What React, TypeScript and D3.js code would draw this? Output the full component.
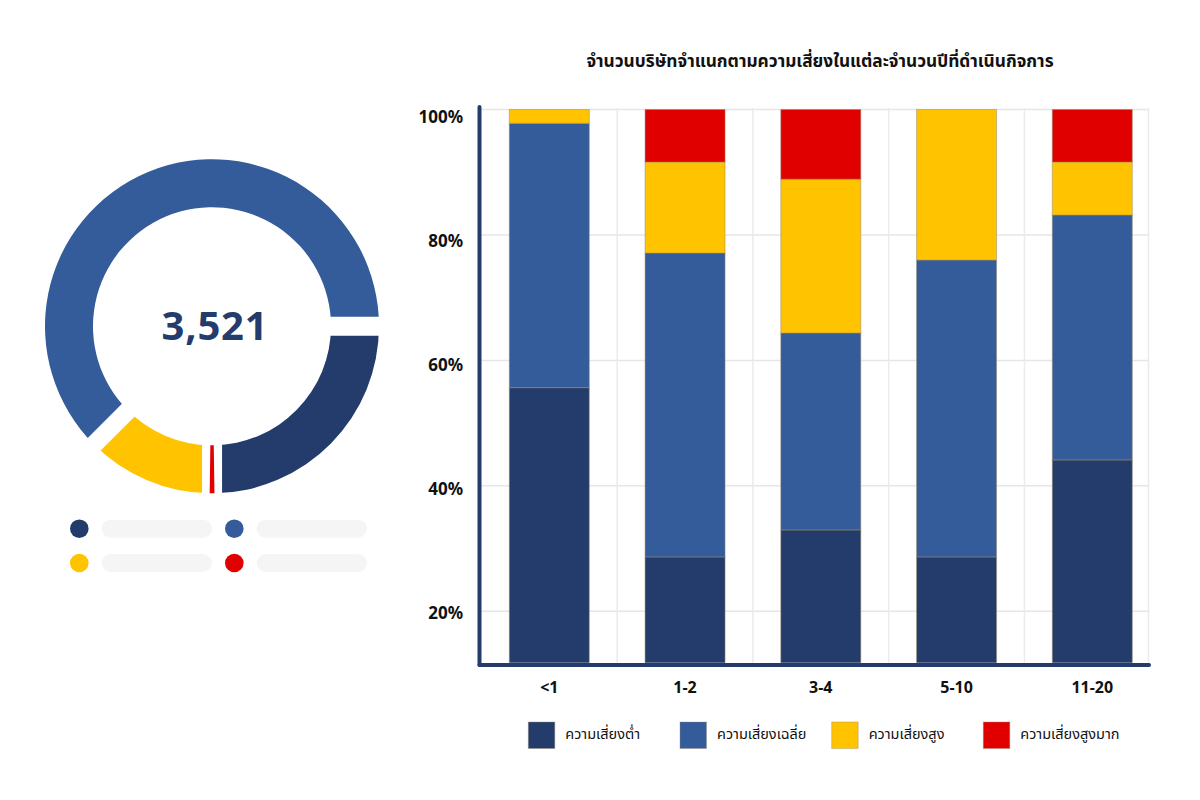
import React from "react";
import * as d3 from "d3";

const categories = ["<1", "1-2", "3-4", "5-10", "11-20"];
const lowRisk = [55.65, 28.66, 32.97, 28.66, 44.13];
const mediumRisk = [42.15, 48.46, 31.4, 47.34, 39.05];
const highRisk = [2.2, 14.51, 24.53, 24.0, 8.45];
const veryHighRisk = [0, 8.37, 11.1, 0, 8.37];
const seriesNames = ["ความเสี่ยงต่ำ", "ความเสี่ยงเฉลี่ย", "ความเสี่ยงสูง", "ความเสี่ยงสูงมาก"];
const yTicks = [20, 40, 60, 80, 100];
const yTickLabels = ["20%", "40%", "60%", "80%", "100%"];
const title = "จำนวนบริษัทจำแนกตามความเสี่ยงในแต่ละจำนวนปีที่ดำเนินกิจการ";

const donutKeys = ["low", "veryHigh", "high", "medium"];
const donutValues = [872, 16, 432, 2201];
const totalLabel = "3,521";

const COLORS: Record<string, string> = {
  low: "#243C6B",
  medium: "#345C9A",
  high: "#FFC300",
  veryHigh: "#E00000",
};
const keys = ["low", "medium", "high", "veryHigh"];

const FONT = "'Noto Sans', 'Noto Sans Thai', 'Noto Sans CJK SC', sans-serif";

export default function App() {
  const left = 480, right = 1148.5, top = 109.5, bottom = 662.7;
  const x = d3.scaleBand<string>().domain(categories).range([509.3, 1132.3]).paddingInner(0.4107).paddingOuter(0);
  const y = d3.scaleLinear().domain([11.8, 100]).range([bottom, top]);
  const yLabel = d3.scaleLinear().domain([100, 20]).range([118.5, 614.5]);

  const rows = categories.map((c, i) => ({
    cat: c,
    low: lowRisk[i],
    medium: mediumRisk[i],
    high: highRisk[i],
    veryHigh: veryHighRisk[i],
  }));
  const stacked = d3.stack<any>().keys(keys)(rows);

  const step = x.step();
  const bw = x.bandwidth();
  const vGrid = categories.slice(0, -1).map((c) => (x(c) as number) + bw + (step - bw) / 2);
  vGrid.push(right);

  // donut
  const cx = 212, cy = 326.3;
  const rIn = 119, rOut = 167;
  const pie = d3.pie<number>().sort(null).value((d) => d).startAngle(Math.PI / 2).endAngle(Math.PI / 2 + 2 * Math.PI);
  const arcsData = pie(donutValues);
  const arcGen = d3.arc<any>().innerRadius(rIn).outerRadius(rOut);
  const redIdx = donutKeys.indexOf("veryHigh");
  const redArc = arcsData[redIdx];
  const redMid = (redArc.startAngle + redArc.endAngle) / 2;
  const gaps = [
    { a: arcsData[0].startAngle, w: 19 },
    { a: arcsData[3].startAngle, w: 18 },
    { a: redMid, w: 20 },
  ];
  const pt = (a: number, r: number) => [r * Math.sin(a), -r * Math.cos(a)];

  const legendX = [528.3, 680, 831.7, 983.3];

  const placeholderDots = [
    { cx: 79.3, cy: 528.7, k: "low" },
    { cx: 234.3, cy: 528.7, k: "medium" },
    { cx: 79.3, cy: 563, k: "high" },
    { cx: 234.3, cy: 563, k: "veryHigh" },
  ];

  return (
    <svg
      width={1200}
      height={800}
      style={{ position: "absolute", left: 0, top: 0, background: "#fff" }}
      fontFamily={FONT}
    >
      <defs>
        <clipPath id="plotClip">
          <rect x={left} y={top - 2} width={right - left} height={bottom - top + 2} />
        </clipPath>
      </defs>

      {/* Donut */}
      <g transform={`translate(${cx},${cy})`}>
        {arcsData.map((a, i) =>
          i === redIdx ? null : <path key={i} d={arcGen(a) as string} fill={COLORS[donutKeys[i]]} />
        )}
        {gaps.map((g, i) => {
          const [x1, y1] = pt(g.a, rIn - 8);
          const [x2, y2] = pt(g.a, rOut + 8);
          return <line key={i} x1={x1} y1={y1} x2={x2} y2={y2} stroke="#fff" strokeWidth={g.w} />;
        })}
        <path d={arcGen(redArc) as string} fill={COLORS.veryHigh} />
        <text
          x={3}
          y={-2}
          textAnchor="middle"
          dominantBaseline="central"
          fontSize={40}
          fontWeight={700}
          letterSpacing={0.8}
          fill="#243C6B"
        >
          {totalLabel}
        </text>
      </g>

      {/* Donut placeholder legend */}
      {placeholderDots.map((p, i) => (
        <g key={i}>
          <circle cx={p.cx} cy={p.cy} r={9.3} fill={COLORS[p.k]} />
          <rect x={p.cx + 22.4} y={p.cy - 9} width={110.3} height={18} rx={9} fill="#F5F5F5" />
        </g>
      ))}

      {/* Title */}
      <text x={820} y={62} textAnchor="middle" dominantBaseline="middle" fontSize={17.3} fontWeight={700} fill="#111">
        {title}
      </text>

      {/* grid */}
      {yTicks.map((t) => (
        <line key={t} x1={left} x2={right} y1={y(t)} y2={y(t)} stroke="#E6E6E6" strokeWidth={1.5} />
      ))}
      {vGrid.map((gx, i) => (
        <line key={i} x1={gx} x2={gx} y1={y(100) - 1.5} y2={bottom} stroke="#EBEBEB" strokeWidth={1.5} />
      ))}

      {/* bars */}
      <g clipPath="url(#plotClip)">
        {stacked.map((s) => (
          <g key={s.key} fill={COLORS[s.key]}>
            {s.map((d, i) =>
              d[1] - d[0] > 0 ? (
                <rect
                  key={i}
                  x={x(categories[i])}
                  y={y(d[1])}
                  width={bw}
                  height={y(d[0]) - y(d[1])}
                  stroke="#9a8a70"
                  strokeOpacity={0.5}
                  strokeWidth={1}
                />
              ) : null
            )}
          </g>
        ))}
      </g>

      {/* axes */}
      <line x1={479.5} x2={479.5} y1={107} y2={665} stroke="#243C6B" strokeWidth={4} strokeLinecap="round" />
      <line x1={479.5} x2={1149} y1={665} y2={665} stroke="#243C6B" strokeWidth={4} strokeLinecap="round" />

      {/* y labels */}
      {yTicks.map((t, i) => (
        <text
          key={t}
          x={463}
          y={yLabel(t)}
          textAnchor="end"
          dominantBaseline="middle"
          fontSize={17}
          fontWeight={700}
          fill="#111"
        >
          {yTickLabels[i]}
        </text>
      ))}

      {/* x labels */}
      {categories.map((c) => (
        <text
          key={c}
          x={(x(c) as number) + bw / 2}
          y={689}
          textAnchor="middle"
          dominantBaseline="middle"
          fontSize={16}
          fontWeight={700}
          fill="#111"
        >
          {c}
        </text>
      ))}

      {/* legend */}
      {keys.map((k, i) => (
        <g key={k}>
          <rect x={legendX[i]} y={722} width={26.5} height={26.5} fill={COLORS[k]} stroke="#9a8a70" strokeOpacity={0.4} />
          <text x={legendX[i] + 37} y={735} dominantBaseline="middle" fontSize={14.5} fill="#111">
            {seriesNames[i]}
          </text>
        </g>
      ))}
    </svg>
  );
}
